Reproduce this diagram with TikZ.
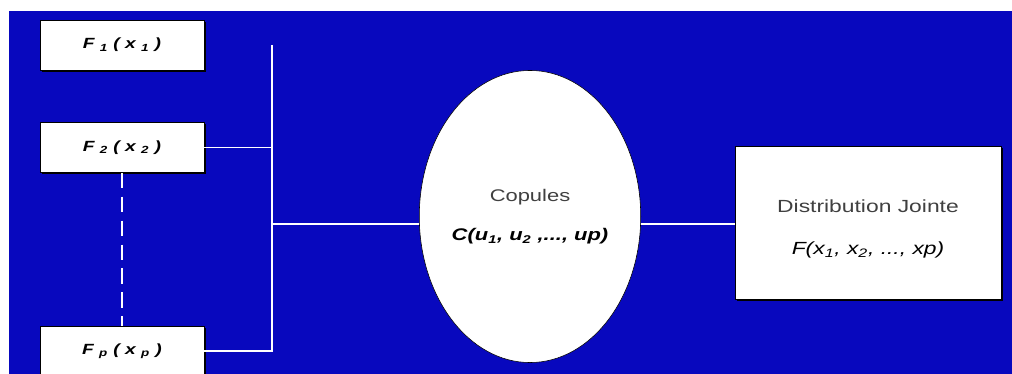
\documentclass[tikz,border=0pt]{standalone}
\usepackage{fontspec}
\setmainfont{Liberation Sans}[FakeStretch=1.3]
\usepackage{tikz}
\usetikzlibrary{shapes.geometric,shadows}
\definecolor{slideblue}{RGB}{8,8,190}

\begin{document}
\begin{tikzpicture}[
    x=0.025cm, y=-0.025cm,
    marg/.style={
        draw=black,
        fill=white,
        minimum width=4.1cm,
        minimum height=1.25cm,
        inner sep=0pt,
        font=\fontsize{10.5}{12}\selectfont\bfseries\itshape,
        drop shadow={shadow xshift=1.4pt, shadow yshift=-1.4pt, opacity=1, fill=black}
    },
    cop/.style={
        ellipse,
        draw=black,
        fill=white,
        minimum width=5.35cm,
        minimum height=7.3cm,
        inner sep=0pt,
        align=center,
        font=\fontsize{12}{14}\selectfont
    },
    joint/.style={
        draw=black,
        fill=white,
        minimum width=6.65cm,
        minimum height=3.82cm,
        inner sep=0pt,
        align=center,
        font=\fontsize{12.5}{14}\selectfont,
        drop shadow={shadow xshift=1.4pt, shadow yshift=-1.4pt, opacity=1, fill=black}
    },
    wire/.style={draw=white, line width=1.1pt},
    bus/.style={draw=white, line width=1.7pt}
]

% background
\fill[white] (0,0) rectangle (1012,374);
\fill[slideblue] (9,11) rectangle (1012,374);
\useasboundingbox (0,0) rectangle (1012,374);

% marginals
\node[marg] (f1) at (122,45) {F \textsubscript{1} ( x \textsubscript{1} )};
\node[marg] (f2) at (122,147.5) {F \textsubscript{2} ( x \textsubscript{2} )};
\node[marg] (fp) at (122,351) {F \textsubscript{p} ( x \textsubscript{p} )};

\draw[wire, dash pattern=on 11pt off 6pt] (f2.south) -- (fp.north);

% copula and joint law
\node[cop] (copule) at (530,216.5)
{{\color{black!75}Copules}\\[14pt]
 \textbf{\textit{C(u\textsubscript{1}, u\textsubscript{2} ,..., up)}}};

\node[joint] (dist) at (868,222.5)
{\rule{0pt}{18pt}{\color{black!75}Distribution Jointe}\\[16pt]
 \textit{F(x\textsubscript{1}, x\textsubscript{2}, ..., xp)}};

% connectors
\coordinate (top) at (272,45);
\coordinate (bus) at (272,224);
\draw[wire] (top) |- (fp.east);
\draw[wire] (f2.east) -- (f2.east -| top);
\draw[bus] (bus) -- (bus -| copule.west);
\draw[bus] (bus -| copule.east) -- (bus -| dist.west);

\end{tikzpicture}
\end{document}
